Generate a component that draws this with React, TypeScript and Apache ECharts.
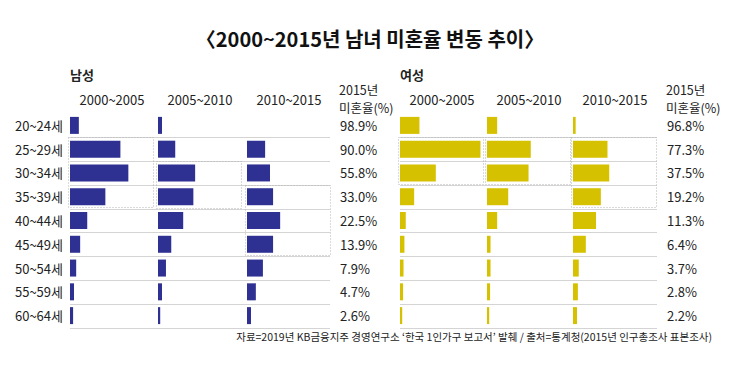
import React, { useEffect, useRef } from "react";
import * as echarts from "echarts";

const ages = ["20~24세", "25~29세", "30~34세", "35~39세", "40~44세", "45~49세", "50~54세", "55~59세", "60~64세"];
const periods = ["2000~2005", "2005~2010", "2010~2015"];

// change in unmarried rate (percentage points)
const male0005 = [2.0, 11.4, 13.2, 8.0, 3.9, 2.3, 1.4, 0.9, 0.7];
const male0510 = [0.9, 3.9, 8.4, 8.0, 5.7, 3.0, 1.8, 0.9, 0.5];
const male1015 = [0, 4.1, 5.2, 5.9, 7.5, 5.9, 3.6, 2.0, 0.9];
const female0005 = [4.4, 18.2, 8.1, 3.2, 1.3, 1.0, 0.8, 0.7, 0.5];
const female0510 = [2.3, 9.9, 9.4, 4.8, 2.3, 0.8, 0.8, 0.7, 0.5];
const female1015 = [0.6, 7.8, 8.2, 6.3, 5.2, 2.9, 1.3, 1.1, 0.9];

const maleRate2015 = [98.9, 90.0, 55.8, 33.0, 22.5, 13.9, 7.9, 4.7, 2.6];
const femaleRate2015 = [96.8, 77.3, 37.5, 19.2, 11.3, 6.4, 3.7, 2.8, 2.2];

// highlighted row ranges [first, last] per period column
const maleBoxes = [[1, 3], [2, 3], [3, 5]];
const femaleBoxes = [[1, 2], [1, 2], [1, 3]];

const titleText = "〈2000~2015년 남녀 미혼율 변동 추이〉";
const rateHeader1 = "2015년";
const rateHeader2 = "미혼율(%)";
const footerText = "자료=2019년 KB금융지주 경영연구소 ‘한국 1인가구 보고서’ 발췌 / 출처=통계청(2015년 인구총조사 표본조사)";

const FONT = "'Noto Sans CJK KR', 'Noto Sans', sans-serif";
const TXT = "#222";
const MALE_C = "#2e3192";
const FEMALE_C = "#d6c100";

export default function App() {
  const ref = useRef<HTMLDivElement>(null);
  useEffect(() => {
    if (!ref.current) return;
    const chart = echarts.init(ref.current, null, { renderer: "svg" });

    const top = 113.5;
    const height = 214;
    const panels = [
      { name: "남성", left: 70, width: 260, colLefts: [70, 158, 247], data: [male0005, male0510, male1015], rates: maleRate2015, boxes: maleBoxes, color: MALE_C, showAges: true },
      { name: "여성", left: 400, width: 257, colLefts: [400, 487, 573], data: [female0005, female0510, female1015], rates: femaleRate2015, boxes: femaleBoxes, color: FEMALE_C, showAges: false },
    ];

    const grid: any[] = [];
    const xAxis: any[] = [];
    const yAxis: any[] = [];
    const series: any[] = [];
    const graphic: any[] = [];

    panels.forEach((p) => {
      // background grid for row separators & labels
      const gi = grid.length;
      grid.push({ left: p.left, top, width: p.width, height });
      xAxis.push({ gridIndex: gi, type: "value", min: 0, max: 1, show: false });
      const yLeft = yAxis.length;
      yAxis.push({
        gridIndex: gi, type: "category", inverse: true, data: ages, position: "left",
        axisLine: { show: false }, axisTick: { show: false }, splitLine: { show: false },
        axisLabel: { show: p.showAges, margin: 7, fontSize: 13, color: TXT, fontFamily: FONT },
      });
      yAxis.push({
        gridIndex: gi, type: "category", inverse: true, data: p.rates.map((r) => r.toFixed(1) + "%"), position: "right",
        axisLine: { show: false }, axisTick: { show: false }, splitLine: { show: false },
        axisLabel: { show: true, margin: 10, align: "left", fontSize: 13, color: TXT, fontFamily: FONT },
      });
      series.push({
        type: "custom", xAxisIndex: xAxis.length - 1, yAxisIndex: yLeft, silent: true, z: 1,
        data: ages.map((_, i) => [0, i]), encode: { x: 0, y: 1 },
        renderItem: (params: any, api: any) => {
          const c = api.coord([0, api.value(1)]);
          const h = api.size([0, 1])[1];
          const cs = params.coordSys;
          const y = Math.round(c[1] + h / 2) + 0.5;
          return { type: "line", shape: { x1: cs.x, y1: y, x2: cs.x + cs.width, y2: y }, style: { stroke: "#d4d4d4", lineWidth: 1 } };
        },
      });

      p.colLefts.forEach((cl, ci) => {
        const g = grid.length;
        grid.push({ left: cl, top, width: 84, height });
        const xi = xAxis.length;
        xAxis.push({
          gridIndex: g, type: "value", min: 0, max: 19, position: "top",
          axisLine: { show: false }, axisTick: { show: false }, axisLabel: { show: false }, splitLine: { show: false },
          name: periods[ci], nameLocation: "middle", nameGap: 8,
          nameTextStyle: { fontSize: 13, color: TXT, fontFamily: FONT },
        });
        const yi = yAxis.length;
        yAxis.push({ gridIndex: g, type: "category", inverse: true, data: ages, show: false });
        series.push({
          type: "bar", xAxisIndex: xi, yAxisIndex: yi, data: p.data[ci], barWidth: 17, z: 3,
          itemStyle: { color: p.color }, silent: true,
        });
        const box = p.boxes[ci];
        series.push({
          type: "custom", xAxisIndex: xi, yAxisIndex: yi, silent: true, z: 4,
          data: [[0, box[0]]], encode: { x: 0, y: 1 },
          renderItem: (params: any, api: any) => {
            const h = api.size([0, 1])[1];
            const y0 = api.coord([0, box[0]])[1] - h / 2;
            const y1 = api.coord([0, box[1]])[1] + h / 2;
            const cs = params.coordSys;
            return {
              type: "rect",
              shape: { x: Math.round(cs.x) - 1.5, y: Math.round(y0) + 0.5, width: cs.width + 1, height: Math.round(y1 - y0) - 1 },
              style: { fill: "none", stroke: "#b5b5b5", lineWidth: 1, lineDash: [1, 2] },
            };
          },
        });
      });

      graphic.push({ type: "text", left: p.left, top: 68, style: { text: p.name, fontSize: 13, fontWeight: "bold", fill: TXT, fontFamily: FONT } });
      graphic.push({
        type: "text", left: p.left + p.width + 9, top: 80,
        style: { text: rateHeader1, fontSize: 12.5, lineHeight: 18, fill: TXT, fontFamily: FONT },
      });
      graphic.push({
        type: "text", left: p.left + p.width + 9, top: 98,
        style: { text: rateHeader2, fontSize: 12.5, lineHeight: 18, fill: TXT, fontFamily: FONT },
      });
    });

    graphic.push({
      type: "text", left: "center", top: 28,
      style: { text: titleText, fontSize: 20, fontWeight: "bold", fill: "#111", fontFamily: FONT },
    });
    graphic.push({
      type: "text", right: 28, top: 331,
      style: { text: footerText, fontSize: 10.5, fill: TXT, fontFamily: FONT },
    });

    chart.setOption({
      animation: false,
      backgroundColor: "#fff",
      grid, xAxis, yAxis, series, graphic,
    });
    return () => chart.dispose();
  }, []);
  return <div ref={ref} style={{ position: "fixed", left: 0, top: 0, width: 740, height: 370 }} />;
}
